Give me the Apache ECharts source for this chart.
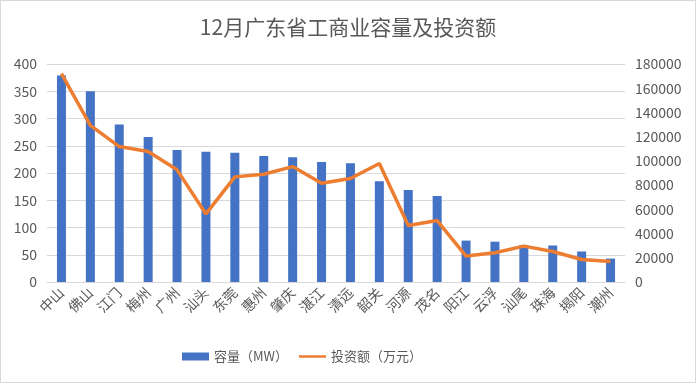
<!DOCTYPE html>
<html><head><meta charset="utf-8">
<script src="https://cdn.jsdelivr.net/npm/echarts@6/dist/echarts.min.js"></script>
<style>
html,body{margin:0;padding:0;background:#fff;}
#c{width:696px;height:383px;box-sizing:border-box;border:1px solid #D9D9D9;}
</style></head><body>
<div id="c"></div>
<script>
var categories = ['中山','佛山','江门','梅州','广州','汕头','东莞','惠州','肇庆','湛江','清远','韶关','河源','茂名','阳江','云浮','汕尾','珠海','揭阳','潮州'];
var capacity = [379,350,289,266,242,239,237,231,229,220,218,185,169,158,76,74,68,67,56,43];
var investment = [172000,129300,111800,107700,92600,56200,86800,89000,95300,81600,85500,97800,46600,50700,21400,24100,29600,25200,18600,17000];
var leftTicks = {min:0,max:400,interval:50};
var rightTicks = {min:0,max:180000,interval:20000};

var font = '"Noto Sans CJK SC", "Liberation Sans", sans-serif';
var chart = echarts.init(document.getElementById('c'));
chart.setOption({
  animation:false,
  title:{text:'12月广东省工商业容量及投资额',left:'center',top:11,
    textStyle:{fontFamily:font,fontSize:21,fontWeight:'normal',color:'#595959'}},
  grid:{left:46,right:70,top:63,bottom:100},
  legend:{bottom:14,left:176,itemGap:11,itemWidth:27,itemHeight:8,
    textStyle:{fontFamily:font,fontSize:13,color:'#595959'},
    data:[{name:'容量（MW）',icon:'rect'},
          {name:'投资额（万元）',icon:'path://M0,0 L0.01,0 L0,0.01 Z M0,2.5 L30,2.5 L30,5.5 L0,5.5 Z M0,8 L0.01,8 L0,7.99 Z'}]},
  xAxis:{type:'category',data:categories,
    axisLine:{lineStyle:{color:'#D9D9D9'}},axisTick:{show:false},
    axisLabel:{rotate:45,fontFamily:font,fontSize:14,color:'#595959',interval:0,margin:8}},
  yAxis:[
    {type:'value',min:leftTicks.min,max:leftTicks.max,interval:leftTicks.interval,
      axisLine:{show:false},axisTick:{show:false},
      splitLine:{lineStyle:{color:'#D9D9D9'}},
      axisLabel:{fontFamily:font,fontSize:14,color:'#595959',margin:10}},
    {type:'value',min:rightTicks.min,max:rightTicks.max,interval:rightTicks.interval,
      axisLine:{show:false},axisTick:{show:false},splitLine:{show:false},
      axisLabel:{fontFamily:font,fontSize:14,color:'#595959',margin:10,
        formatter:function(v){return String(v);}}}
  ],
  series:[
    {name:'容量（MW）',type:'bar',data:capacity,barWidth:9,
      itemStyle:{color:'#4472C4'}},
    {name:'投资额（万元）',type:'line',yAxisIndex:1,data:investment,
      symbol:'none',lineStyle:{color:'#ED7D31',width:3.5},itemStyle:{color:'#ED7D31'}}
  ]
});
</script></body></html>
